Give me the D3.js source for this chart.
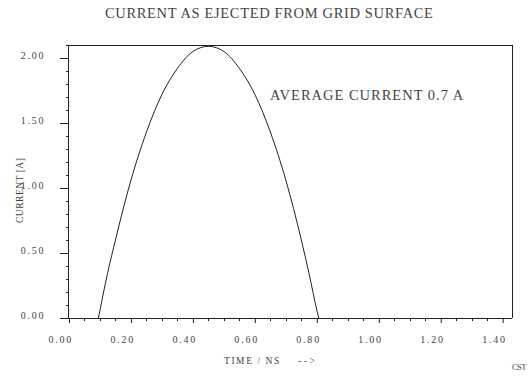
<!DOCTYPE html>
<html><head><meta charset="utf-8">
<script src="https://cdn.jsdelivr.net/npm/d3@7"></script>
<style>body{margin:0;background:#fff}svg{display:block}</style>
</head><body>
<script>
const timeNs = [0.095,0.10,0.125,0.15,0.175,0.20,0.25,0.30,0.35,0.40,0.45,0.50,0.55,0.60,0.65,0.70,0.725,0.75,0.775,0.80,0.806];
const currentA = [0.00,0.06,0.35,0.60,0.84,1.06,1.43,1.72,1.92,2.05,2.09,2.05,1.92,1.72,1.43,1.06,0.84,0.60,0.34,0.06,0.00];
const xMajor = [0,0.2,0.4,0.6,0.8,1.0,1.2,1.4];
const yMajor = [0,0.5,1.0,1.5,2.0];
const title = "CURRENT AS EJECTED FROM GRID SURFACE";
const note = "AVERAGE CURRENT 0.7 A";

const W=531,H=379;
const L=69,R=512,T=45,B=318;
const svg=d3.select("body").append("svg").attr("width",W).attr("height",H);
const x=d3.scaleLinear().domain([0,1.43]).range([L,R]);
const y=d3.scaleLinear().domain([0,2.1]).range([B,T]);
const font="'Liberation Serif','Times New Roman',serif";
const ink="#222", txt="#444";
function mono(sel,s,adv){ sel.text(s).attr("textLength",s.length*adv).attr("lengthAdjust","spacing"); return sel; }

svg.append("line").attr("x1",L).attr("x2",R).attr("y1",T+0.5).attr("y2",T+0.5).attr("stroke",ink);
svg.append("line").attr("x1",R+0.5).attr("x2",R+0.5).attr("y1",T).attr("y2",B).attr("stroke",ink);

const xMinor=d3.range(0,1.4001,0.05).filter(v=>!xMajor.some(m=>Math.abs(m-v)<1e-6));
const gx=svg.append("g").attr("transform",`translate(0,${B})`);
gx.call(d3.axisBottom(x).tickValues(xMajor).tickSize(5).tickSizeOuter(0).tickFormat(()=>""));
gx.select(".domain").attr("stroke",ink).attr("d",`M${L},0.5H${R}`);
gx.selectAll(".tick line").attr("stroke",ink);
gx.selectAll(".minor").data(xMinor).enter().append("line")
  .attr("x1",d=>Math.round(x(d))+0.5).attr("x2",d=>Math.round(x(d))+0.5).attr("y1",0).attr("y2",3).attr("stroke",ink);
svg.append("g").selectAll("text").data(xMajor).enter().append("text")
  .attr("x",d=>x(d)-20.5).attr("y",342.5).attr("text-anchor","start")
  .attr("font-family",font).attr("font-size",10).attr("fill",txt).each(function(d){mono(d3.select(this),d.toFixed(2),5.7);});

const yMinor=d3.range(0,2.1001,0.1).filter(v=>!yMajor.some(m=>Math.abs(m-v)<1e-6));
const gy=svg.append("g").attr("transform",`translate(${L},0)`);
gy.call(d3.axisLeft(y).tickValues(yMajor).tickSize(9).tickSizeOuter(0).tickFormat(()=>""));
gy.select(".domain").attr("stroke",ink).attr("d",`M-0.5,${T}V${B}`);
gy.selectAll(".tick line").attr("stroke",ink);
gy.selectAll(".minor").data(yMinor).enter().append("line")
  .attr("y1",d=>Math.round(y(d))+0.5).attr("y2",d=>Math.round(y(d))+0.5).attr("x1",-3).attr("x2",0).attr("stroke",ink);
svg.append("g").selectAll("text").data(yMajor).enter().append("text")
  .attr("x",20.7).attr("y",d=>y(d)+1).attr("text-anchor","start")
  .attr("font-family",font).attr("font-size",10).attr("fill",txt).each(function(d){mono(d3.select(this),d.toFixed(2),5.7);});

const line=d3.line().x((d,i)=>x(timeNs[i])).y(d=>y(d)).curve(d3.curveMonotoneX);
svg.append("path").datum(currentA).attr("d",line).attr("fill","none").attr("stroke",ink).attr("stroke-width",1);

mono(svg.append("text").attr("x",105).attr("y",17.5)
  .attr("font-family",font).attr("font-size",14.5).attr("fill",txt),title,9.11);
mono(svg.append("text").attr("x",270).attr("y",100)
  .attr("font-family",font).attr("font-size",14.5).attr("fill",txt),note,9.2);
mono(svg.append("text").attr("x",224).attr("y",364).attr("font-family",font).attr("font-size",9.5).attr("fill",txt),"TIME / NS",6.15);
mono(svg.append("text").attr("x",298).attr("y",364).attr("font-family",font).attr("font-size",9.5).attr("fill",txt),"-->",5.6);
mono(svg.append("text").attr("x",512).attr("y",370).attr("font-family",font).attr("font-size",8.5).attr("fill",txt),"CST",4.8);
mono(svg.append("text").attr("transform","translate(23,223) rotate(-90)")
  .attr("font-family",font).attr("font-size",9.5).attr("fill",txt),"CURRENT [A]",5.9);
</script>
</body></html>
